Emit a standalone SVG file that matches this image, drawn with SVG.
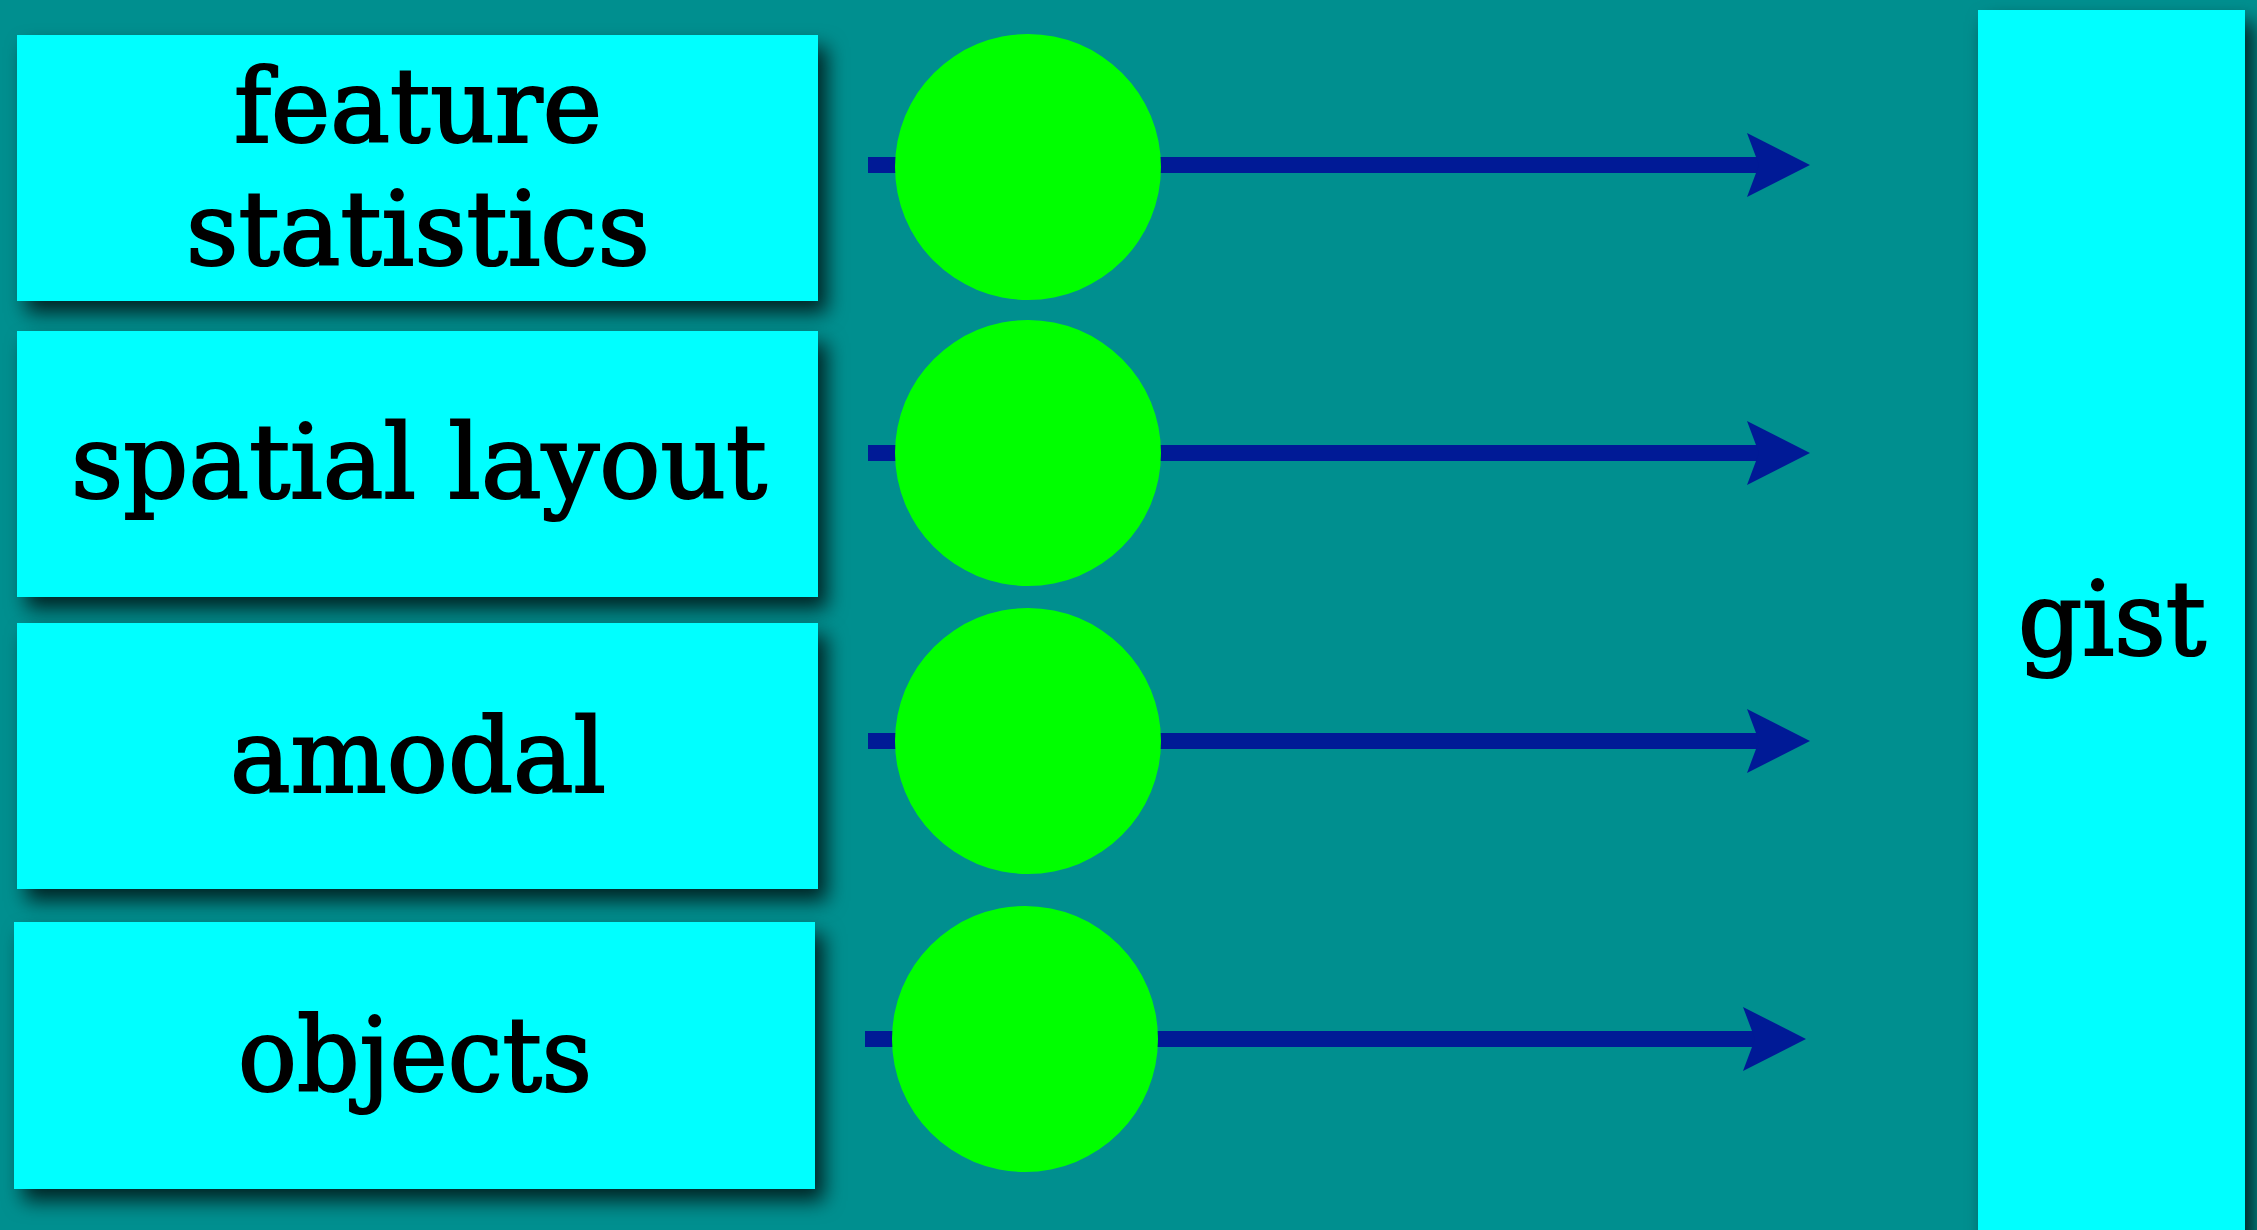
<svg xmlns="http://www.w3.org/2000/svg" width="2257" height="1230" viewBox="0 0 2257 1230">
  <style>
    .box { fill: #00FFFF; filter: url(#shadow); }
    .dot { fill: #00FF00; }
    .lbl { font-family: "DejaVu Serif", "Liberation Serif", serif; font-size: 103px; fill: #000000; stroke: #000000; stroke-width: 2.2px; text-anchor: middle; }
    .conn { stroke: #001A96; stroke-width: 16; fill: none; marker-end: url(#head); }
  </style>
  <defs>
    <filter id="shadow" x="-10%" y="-10%" width="130%" height="130%">
      <feDropShadow dx="9" dy="12" stdDeviation="10" flood-color="#000000" flood-opacity="0.75"/>
    </filter>
    <marker id="head" viewBox="-63 -32 63 64" markerWidth="63" markerHeight="64" refX="-45" refY="0" markerUnits="userSpaceOnUse" orient="auto">
      <path d="M0,0 L-63,-32 L-51,0 L-63,32 Z" fill="#001A96"/>
    </marker>
  </defs>
  <rect x="0" y="0" width="2257" height="1230" fill="#008F8F"/>

  <g id="node-feature-statistics">
    <rect class="box" x="17" y="35" width="801" height="266"/>
    <text class="lbl" x="418" y="142" textLength="368" lengthAdjust="spacingAndGlyphs">feature</text>
    <text class="lbl" x="418" y="265" textLength="464" lengthAdjust="spacingAndGlyphs">statistics</text>
  </g>
  <g id="node-spatial-layout">
    <rect class="box" x="17" y="331" width="801" height="266"/>
    <text class="lbl" x="419" y="498" textLength="696" lengthAdjust="spacingAndGlyphs">spatial layout</text>
  </g>
  <g id="node-amodal">
    <rect class="box" x="17" y="623" width="801" height="266"/>
    <text class="lbl" x="418" y="792" textLength="376" lengthAdjust="spacingAndGlyphs">amodal</text>
  </g>
  <g id="node-objects">
    <rect class="box" x="14" y="922" width="801" height="267"/>
    <text class="lbl" x="415" y="1091" textLength="354" lengthAdjust="spacingAndGlyphs">objects</text>
  </g>
  <g id="node-gist">
    <rect class="box" x="1978" y="10" width="267" height="1240"/>
    <text class="lbl" x="2112" y="655" textLength="188" lengthAdjust="spacingAndGlyphs">gist</text>
  </g>

  <g id="connectors">
    <line class="conn" x1="868" y1="165" x2="1765" y2="165"/>
    <line class="conn" x1="868" y1="453" x2="1765" y2="453"/>
    <line class="conn" x1="868" y1="741" x2="1765" y2="741"/>
    <line class="conn" x1="865" y1="1039" x2="1761" y2="1039"/>
  </g>

  <g id="node-circle-1"><circle class="dot" cx="1028" cy="167" r="133"/></g>
  <g id="node-circle-2"><circle class="dot" cx="1028" cy="453" r="133"/></g>
  <g id="node-circle-3"><circle class="dot" cx="1028" cy="741" r="133"/></g>
  <g id="node-circle-4"><circle class="dot" cx="1025" cy="1039" r="133"/></g>
</svg>
